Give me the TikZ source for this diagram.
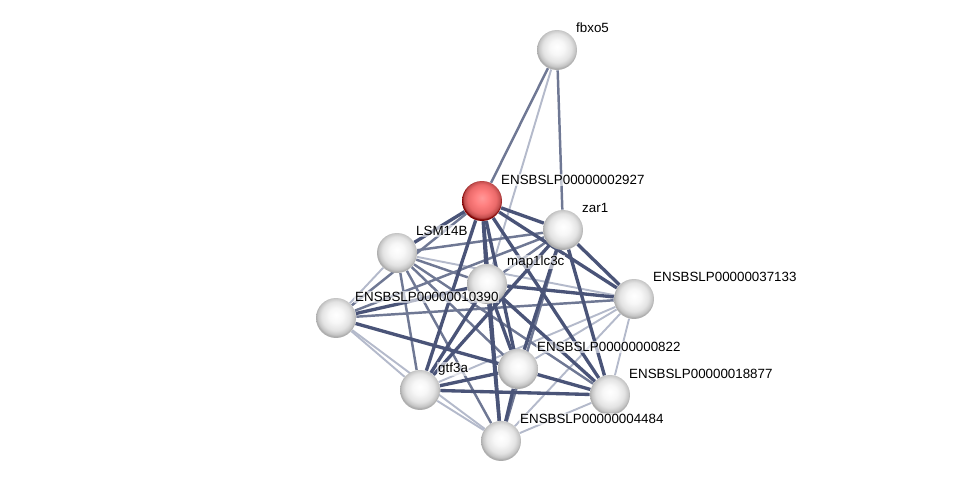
\documentclass[tikz,border=0pt]{standalone}
\usepackage{fontspec}
\setmainfont{Liberation Sans}
\usetikzlibrary{backgrounds}

\definecolor{strongc}{HTML}{4A5478}
\definecolor{midc}{HTML}{6F7894}
\definecolor{weakc}{HTML}{B4BACB}

\pgfdeclareradialshading{greyorb}{\pgfpoint{0bp}{4bp}}{color(0bp)=(white); color(9bp)=(gray!6); color(18bp)=(gray!22); color(23bp)=(gray!45); color(25bp)=(gray!65); color(50bp)=(gray!65)}
\pgfdeclareradialshading{redorb}{\pgfpoint{0bp}{4bp}}{color(0bp)=(red!40!white); color(9bp)=(red!50!white); color(18bp)=(red!55!white!92!black); color(23bp)=(red!60!white!75!black); color(25bp)=(red!50!black); color(50bp)=(red!50!black)}

\tikzset{
  protein/.style={circle,minimum size=0.8cm,inner sep=0pt,shading=greyorb},
  query/.style={protein,shading=redorb},
  lbl/.style={anchor=west,inner sep=0.5pt,fill=white,fill opacity=0.6,text opacity=1,
    font=\fontsize{7.6}{9}\selectfont},
  strong/.style={draw=strongc,line width=1.9pt},
  mid/.style={draw=midc,line width=1.4pt},
  weak/.style={draw=weakc,line width=1.1pt}
}

\begin{document}
\begin{tikzpicture}[x=0.02cm,y=-0.02cm]
\useasboundingbox (0,0) rectangle (975,486);
\node[protein] (F) at (557,50) {};
\node[query] (R) at (482,201) {};
\node[protein] (Z) at (563,230) {};
\node[protein] (L) at (397,253) {};
\node[protein] (M) at (487,284) {};
\node[protein] (A) at (634,299) {};
\node[protein] (B) at (336,318) {};
\node[protein] (C) at (518,369) {};
\node[protein] (G) at (420,390) {};
\node[protein] (D) at (610,395) {};
\node[protein] (H) at (501,441) {};
\node[lbl] (Fl) at (575,28) {fbxo5};
\node[lbl] (Rl) at (500,180) {ENSBSLP00000002927};
\node[lbl] (Zl) at (581,208) {zar1};
\node[lbl] (Ll) at (415,231) {LSM14B};
\node[lbl] (Ml) at (506,262) {map1lc3c};
\node[lbl] (Al) at (652,277) {ENSBSLP00000037133};
\node[lbl] (Bl) at (354,297) {ENSBSLP00000010390};
\node[lbl] (Cl) at (536,347) {ENSBSLP00000000822};
\node[lbl] (Gl) at (437,369) {gtf3a};
\node[lbl] (Dl) at (628,374) {ENSBSLP00000018877};
\node[lbl] (Hl) at (519,419) {ENSBSLP00000004484};
\begin{pgfonlayer}{background}
\foreach \a/\b in {F/M,L/A,L/B,A/C,A/G,A/D,A/H,B/G,B/H,G/H,D/H}
  \draw[weak] (\a)--(\b);
\foreach \a/\b in {F/R,F/Z,R/B,Z/L,Z/M,Z/B,Z/H,L/M,L/C,L/G,L/D,L/H,B/A}
  \draw[mid] (\a)--(\b);
\foreach \a/\b in {R/Z,R/L,R/M,R/A,R/C,R/G,R/D,R/H,Z/A,Z/C,Z/G,Z/D,M/A,M/B,M/C,M/G,M/D,M/H,B/C,C/G,C/D,C/H,G/D}
  \draw[strong] (\a)--(\b);
\end{pgfonlayer}
\end{tikzpicture}
\end{document}
